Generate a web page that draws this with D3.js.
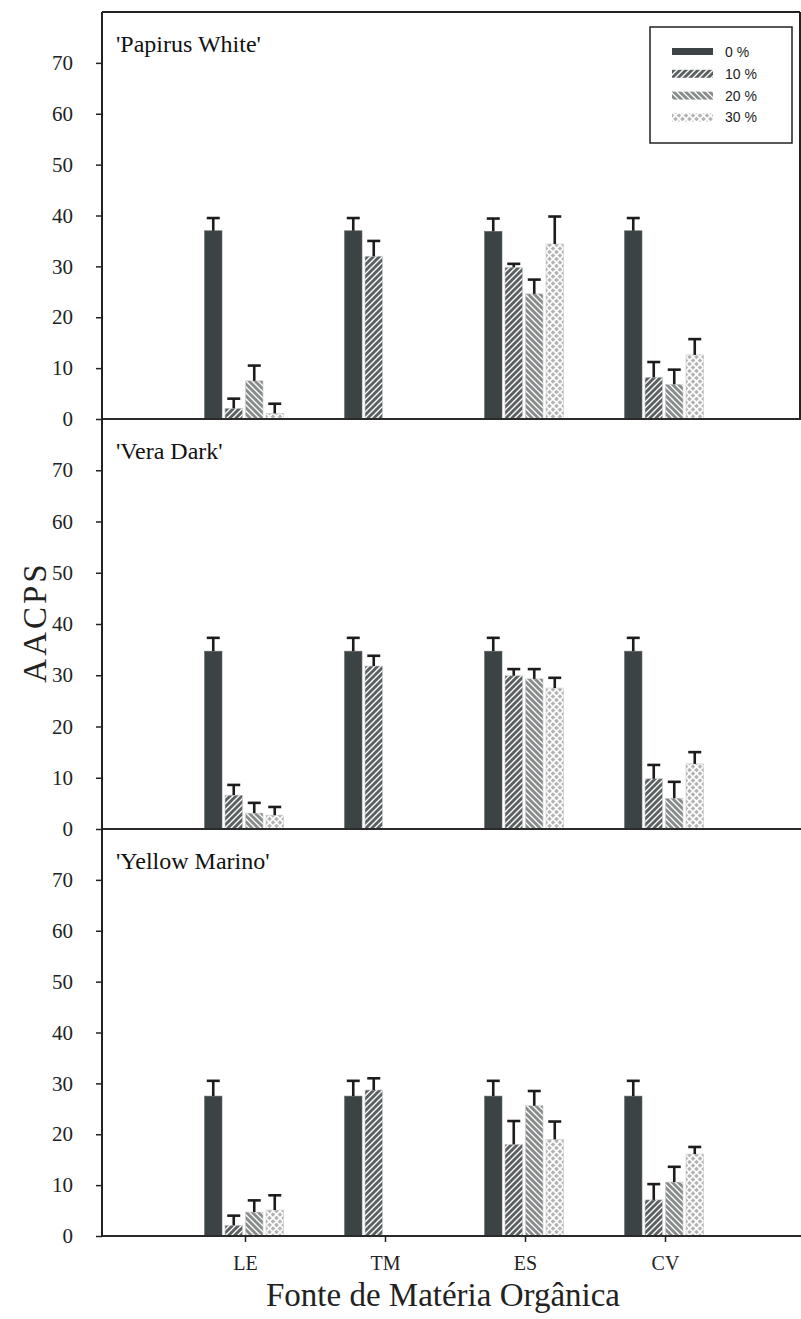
<!DOCTYPE html>
<html><head><meta charset="utf-8">
<script src="https://cdn.jsdelivr.net/npm/d3@7"></script>
<style>body{margin:0;background:#fff}svg{display:block}</style>
</head><body>
<script>
// ---- data ----
const categories = ["LE","TM","ES","CV"];
const levels = ["0 %","10 %","20 %","30 %"];
const panelTitles = ["'Papirus White'","'Vera Dark'","'Yellow Marino'"];
const yTicks = [0,10,20,30,40,50,60,70];

// means [level][category]
const papirusMeans = [[37,37,36.9,37],[2.1,32,29.8,8.2],[7.5,null,24.6,6.8],[1.1,null,34.4,12.6]];
const papirusErr   = [[2.5,2.5,2.5,2.5],[1.9,3,0.7,3],[3,null,2.8,2.9],[1.9,null,5.4,3.1]];
const veraMeans    = [[34.7,34.7,34.7,34.7],[6.6,31.8,29.9,9.8],[3.1,null,29.3,6.0],[2.7,null,27.5,12.7]];
const veraErr      = [[2.6,2.6,2.6,2.6],[2,2,1.3,2.7],[2,null,1.9,3.2],[1.6,null,2,2.3]];
const yellowMeans  = [[27.5,27.5,27.5,27.5],[2.1,28.7,18,7.1],[4.7,null,25.6,10.6],[5.1,null,19,16.1]];
const yellowErr    = [[3,3,3,3],[1.9,2.3,4.6,3.1],[2.3,null,2.9,3],[2.9,null,3.5,1.4]];

const panelMeans = [papirusMeans, veraMeans, yellowMeans];
const panelErrs  = [papirusErr, veraErr, yellowErr];

// ---- layout ----
const W = 801, H = 1319;
const axisX = 102, rightX = 801;
const panelBox = [[12,419],[419,829],[829,1236]];
const serif = "'Liberation Serif','Times New Roman',serif";
const sans = "'Liberation Sans',Arial,sans-serif";

const svg = d3.select("body").append("svg").attr("width",W).attr("height",H);
const defs = svg.append("defs");

// patterns
function stripes(id, color, dir){
  const p = defs.append("pattern").attr("id",id).attr("patternUnits","userSpaceOnUse")
    .attr("width",6).attr("height",6);
  p.append("rect").attr("width",6).attr("height",6).attr("fill","#fff");
  const d = dir>0 ? "M-1,1 L1,-1 M0,6 L6,0 M5,7 L7,5" : "M-1,5 L1,7 M0,0 L6,6 M5,-1 L7,1";
  p.append("path").attr("d",d).attr("stroke",color).attr("stroke-width",2.9).attr("fill","none");
}
stripes("p10","#5b6162",1);
stripes("p20","#878b8b",-1);
{
  const p = defs.append("pattern").attr("id","p30").attr("patternUnits","userSpaceOnUse")
    .attr("width",7).attr("height",7);
  p.append("rect").attr("width",7).attr("height",7).attr("fill","#b4b4b4");
  p.append("path").attr("d","M0,0 L7,7 M7,0 L0,7").attr("stroke","#fff").attr("stroke-width",1.6);
}
const fills = ["#3b4345","url(#p10)","url(#p20)","url(#p30)"];

const x = d3.scaleLinear().domain([0,5]).range([105,805]);
const barStep = 20.5, barW = 17.5;

panelBox.forEach((box,pi)=>{
  const [top,zero] = box;
  const y = d3.scaleLinear().domain([0,80]).range([zero,top]);
  const g = svg.append("g");
  const means = panelMeans[pi], errs = panelErrs[pi];

  // bars
  levels.forEach((lv,li)=>{
    categories.forEach((c,ci)=>{
      const v = means[li][ci];
      if(v==null) return;
      const cx = x(ci+1);
      const bx = cx - 40.5 + li*barStep;
      g.append("rect").attr("x",bx).attr("y",y(v)).attr("width",barW)
        .attr("height",y(0)-y(v)).attr("fill",fills[li])
        .attr("stroke", li==0?"#6a7172":"#c8c8c8").attr("stroke-width",0.6);
      const e = errs[li][ci];
      const mx = bx + barW/2;
      g.append("line").attr("x1",mx).attr("x2",mx).attr("y1",y(v)).attr("y2",y(v+e))
        .attr("stroke","#1c1c1c").attr("stroke-width",2.6);
      g.append("line").attr("x1",mx-6.5).attr("x2",mx+6.5).attr("y1",y(v+e)).attr("y2",y(v+e))
        .attr("stroke","#1c1c1c").attr("stroke-width",2.6);
    });
  });

  // baseline
  g.append("line").attr("x1",axisX).attr("x2",rightX).attr("y1",zero).attr("y2",zero)
    .attr("stroke","#2a2a2a").attr("stroke-width",2);

  // y axis
  const ya = d3.axisLeft(y).tickValues(yTicks).tickSize(6).tickPadding(23);
  const ag = g.append("g").attr("transform",`translate(${axisX},0)`).call(ya);
  ag.select(".domain").remove();
  ag.selectAll(".tick line").attr("stroke","#222").attr("stroke-width",1.5);
  ag.selectAll(".tick text").attr("font-family",serif).attr("font-size",21).attr("fill","#222");

  // panel title
  g.append("text").attr("x",116).attr("y",top+40).text(panelTitles[pi])
    .attr("font-family",serif).attr("font-size",24).attr("fill","#111");
});

// y axis line
svg.append("line").attr("x1",axisX).attr("x2",axisX).attr("y1",12).attr("y2",1236)
  .attr("stroke","#222").attr("stroke-width",2);
// top frame of first panel
svg.append("line").attr("x1",axisX).attr("x2",800).attr("y1",12).attr("y2",12)
  .attr("stroke","#222").attr("stroke-width",2);
svg.append("line").attr("x1",800).attr("x2",800).attr("y1",12).attr("y2",419)
  .attr("stroke","#222").attr("stroke-width",2);

// bottom x axis ticks and labels
const xa = d3.axisBottom(x).tickValues([1,2,3,4]).tickFormat((d)=>categories[d-1]).tickSize(6).tickPadding(14);
const xg = svg.append("g").attr("transform","translate(0,1236)").call(xa);
xg.select(".domain").remove();
xg.selectAll(".tick line").attr("stroke","#222").attr("stroke-width",1.5);
xg.selectAll(".tick text").attr("font-family",serif).attr("font-size",20).attr("fill","#222");

// axis titles
svg.append("text").attr("x",443).attr("y",1306).attr("text-anchor","middle")
  .attr("font-family",serif).attr("font-size",33).attr("fill","#222").text("Fonte de Matéria Orgânica");
svg.append("text").attr("transform","translate(46,622) rotate(-90)").attr("text-anchor","middle")
  .attr("font-family",serif).attr("font-size",33).attr("letter-spacing",3).attr("fill","#222").text("AACPS");

// legend
const lg = svg.append("g");
lg.append("rect").attr("x",650).attr("y",27).attr("width",142).attr("height",116)
  .attr("fill","#fff").attr("stroke","#222").attr("stroke-width",1.5);
levels.forEach((lv,i)=>{
  const yy = 52 + i*21.8;
  lg.append("rect").attr("x",672).attr("y",yy-4).attr("width",41).attr("height",i==0?7:8)
    .attr("fill",fills[i]);
  lg.append("text").attr("x",725).attr("y",yy).attr("dy","0.35em").text(lv)
    .attr("font-family",sans).attr("font-size",14).attr("fill","#222");
});
</script>
</body></html>
